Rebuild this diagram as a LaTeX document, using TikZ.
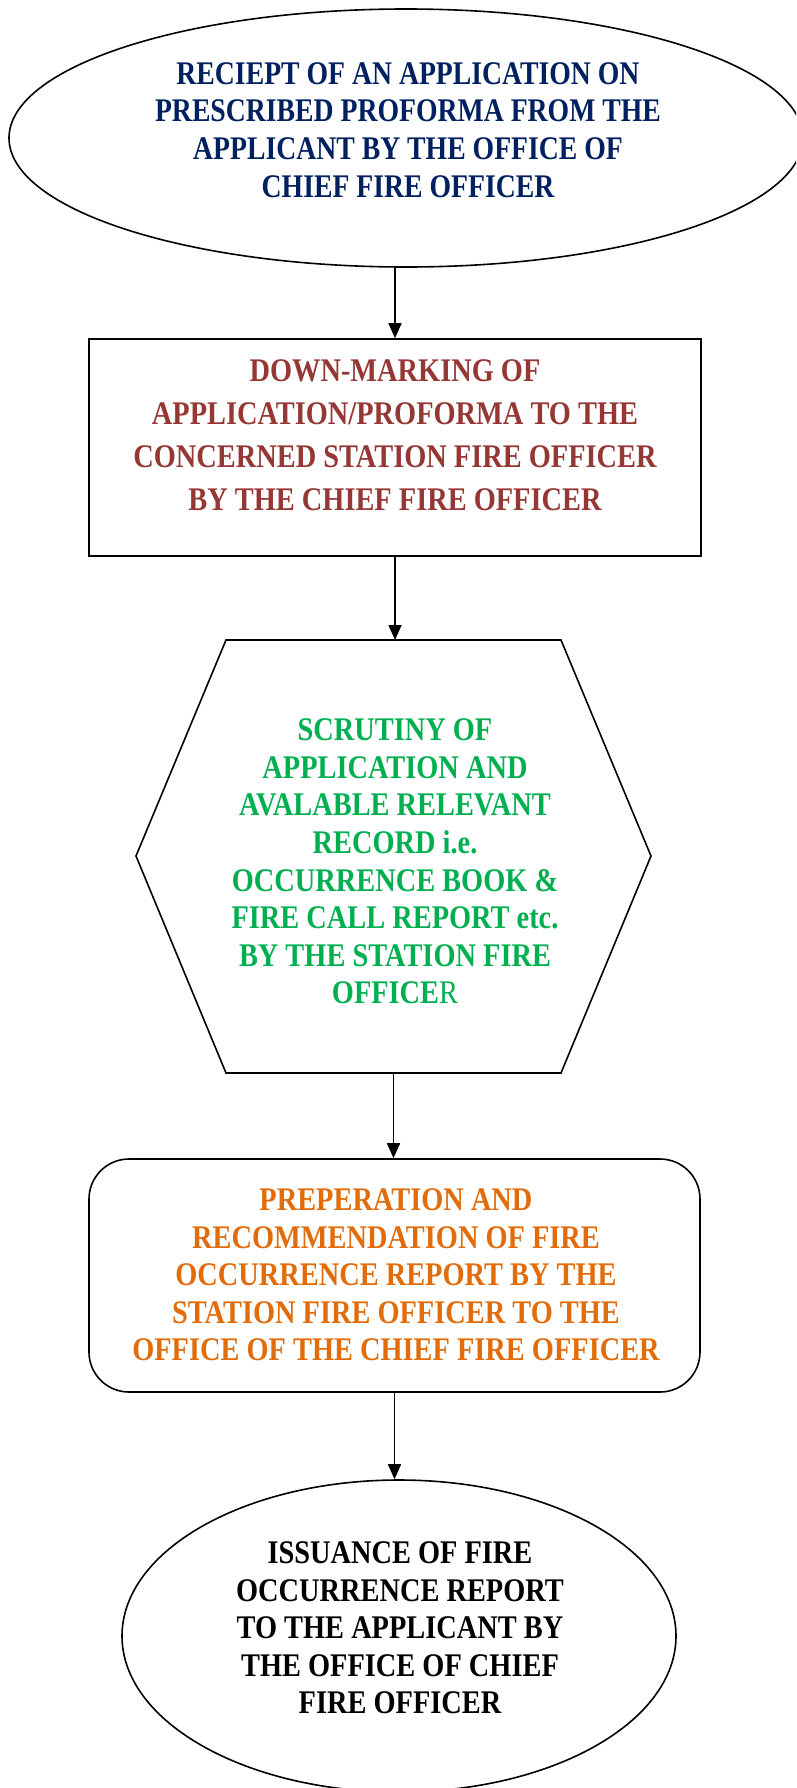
\documentclass[tikz,border=0pt]{standalone}
\usepackage{fontspec}
\setmainfont{Liberation Serif}
\newfontfamily\cf[FakeStretch=0.86]{Liberation Serif}
\newfontfamily\cft[FakeStretch=0.84]{Liberation Serif}
\usetikzlibrary{shapes.geometric,arrows.meta}
\definecolor{navyc}{HTML}{002060}
\definecolor{brownc}{HTML}{953735}
\definecolor{greenc}{HTML}{00B050}
\definecolor{orangec}{HTML}{E36C0A}
\begin{document}
\begin{tikzpicture}[x=1pt,y=-1pt,
  shp/.style={draw=black,line width=1.6pt,fill=white,inner sep=0pt},
  lbl/.style={align=center,inner sep=0pt,font=\cf\bfseries\fontsize{33}{37.6}\selectfont},
  arr/.style={line width=1.6pt,-{Triangle[length=15pt,width=13pt]}}]
\useasboundingbox (0,0) rectangle (796,1788);
\clip (0,0) rectangle (796,1788);
\fill[white] (0,0) rectangle (796,1788);

% top ellipse
\node[shp,ellipse,minimum width=794pt,minimum height=258pt] (top) at (406,138) {};
\node[lbl,text=navyc,font=\cft\bfseries\fontsize{33}{37.6}\selectfont] (toptxt) at (408,130)
  {RECIEPT OF AN APPLICATION ON\\PRESCRIBED PROFORMA FROM THE\\APPLICANT BY THE OFFICE OF\\CHIEF FIRE OFFICER};

% rectangle
\node[shp,rectangle,minimum width=612pt,minimum height=217pt] (rect) at (395,447.5) {};
\node[lbl,text=brownc,font=\cf\bfseries\fontsize{33}{43}\selectfont] (recttxt) at (395,435)
  {DOWN-MARKING OF\\APPLICATION/PROFORMA TO THE\\CONCERNED STATION FIRE OFFICER\\BY THE CHIEF FIRE OFFICER};

% hexagon
\coordinate (hexN) at (393.5,640);
\coordinate (hexS) at (393.5,1073);
\draw[shp] (226,640) -- (561,640) -- (651,856) -- (561,1073) -- (226,1073) -- (136,856) -- cycle;
\node[lbl,text=greenc] (hextxt) at (395,861.5)
  {SCRUTINY OF\\APPLICATION AND\\AVALABLE RELEVANT\\RECORD i.e.\\OCCURRENCE BOOK \&\\FIRE CALL REPORT etc.\\BY THE STATION FIRE\\OFFICE{\mdseries R}};

% rounded rectangle
\node[shp,rectangle,rounded corners=40pt,minimum width=611pt,minimum height=233pt] (rr) at (394.5,1275.5) {};
\node[lbl,text=orangec] (rrtxt) at (396,1275)
  {PREPERATION AND\\RECOMMENDATION OF FIRE\\OCCURRENCE REPORT BY THE\\STATION FIRE OFFICER TO THE\\OFFICE OF THE CHIEF FIRE OFFICER};

% bottom ellipse
\node[shp,ellipse,minimum width=554pt,minimum height=312pt] (bot) at (399,1636) {};
\node[lbl,text=black] (bottxt) at (400,1628)
  {ISSUANCE OF FIRE\\OCCURRENCE REPORT\\TO THE APPLICANT BY\\THE OFFICE OF CHIEF\\FIRE OFFICER};

% arrows
\draw[arr] (rect.north |- top.south) -- (rect.north);
\draw[arr] (rect.south) -- (rect.south |- hexN);
\draw[arr] (hexS) -- (hexS |- rr.north);
\draw[arr] (rr.south) -- (rr.south |- bot.north);
\end{tikzpicture}
\end{document}
